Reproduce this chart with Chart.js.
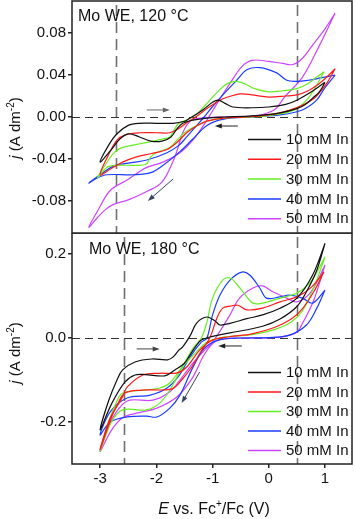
<!DOCTYPE html>
<html>
<head>
<meta charset="utf-8">
<script src="https://cdn.jsdelivr.net/npm/chart.js@4.4.1/dist/chart.umd.min.js"></script>
<style>
  html, body { margin: 0; padding: 0; background: #fff; }
  #wrap { position: relative; width: 355px; height: 519px; overflow: hidden; }
  #topChart { position: absolute; left: 0; top: 0; }
  #botChart { position: absolute; left: 0; top: 233px; }
</style>
</head>
<body>
<div id="wrap">
  <canvas id="topChart" width="355" height="234"></canvas>
  <canvas id="botChart" width="355" height="286"></canvas>
</div>
<script>
// ─── Data (E in V vs. Fc+/Fc, j in A dm^-2) ─────────────────────────────────

const seriesLabels = ['10 mM In', '20 mM In', '30 mM In', '40 mM In', '50 mM In'];

const eTicks = [-3, -2, -1, 0, 1];
const topJTicks = [-0.08, -0.04, 0, 0.04, 0.08];
const botJTicks = [-0.2, 0, 0.2];

// dashed reference potentials
const topRefE = [-2.72, 0.5];
const botRefE = [-2.58, 0.5];

// scan-direction arrows [E1, j1, E2, j2], head at the second point
const topArrows = [[-2.17, 0.0067, -1.76, 0.0067], [-0.55, -0.0086, -0.96, -0.0086], [-1.7, -0.059, -2.15, -0.080]];
const botArrows = [[-2.35, -0.026, -1.94, -0.026], [-0.48, -0.019, -0.9, -0.019], [-1.23, -0.081, -1.55, -0.155]];

// 120 °C loops: cathodic sweep from the right end to -3 V, then back
const top10 = [[1.0, 0.033], [0.9, 0.024], [0.78, 0.018], [0.65, 0.012], [0.5, 0.008], [0.2, 0.004], [-0.3, 0.001], [-0.8, 0.0], [-1.1, -0.001], [-1.35, -0.003], [-1.53, -0.006], [-1.63, -0.011], [-1.74, -0.019], [-1.9, -0.023], [-2.1, -0.023], [-2.3, -0.019], [-2.5, -0.016], [-2.65, -0.021], [-2.8, -0.031], [-3.0, -0.043],
  [-2.85, -0.027], [-2.7, -0.016], [-2.5, -0.008], [-2.3, -0.006], [-2.0, -0.006], [-1.7, -0.006], [-1.5, -0.004], [-1.4, -0.001], [-1.17, 0.007], [-1.0, 0.014], [-0.9, 0.016], [-0.78, 0.013], [-0.64, 0.0095], [-0.3, 0.0088], [0.0, 0.0095], [0.3, 0.012], [0.5, 0.016], [0.73, 0.023], [1.0, 0.033]];
const top20 = [[1.18, 0.046], [1.03, 0.032], [0.85, 0.02], [0.73, 0.015], [0.5, 0.009], [0.2, 0.004], [0.0, 0.002], [-0.4, 0.0], [-0.8, -0.001], [-1.1, -0.004], [-1.3, -0.009], [-1.46, -0.015], [-1.63, -0.024], [-1.81, -0.031], [-2.1, -0.035], [-2.35, -0.038], [-2.6, -0.043], [-2.8, -0.049], [-3.0, -0.055],
  [-2.85, -0.036], [-2.7, -0.022], [-2.55, -0.017], [-2.3, -0.015], [-2.0, -0.015], [-1.76, -0.015], [-1.6, -0.011], [-1.45, -0.005], [-1.3, 0.0], [-1.1, 0.008], [-0.9, 0.015], [-0.73, 0.019], [-0.5, 0.022], [-0.3, 0.021], [0.0, 0.019], [0.3, 0.02], [0.5, 0.021], [0.7, 0.025], [0.9, 0.032], [1.05, 0.039], [1.18, 0.046]];
const top30 = [[0.98, 0.043], [0.85, 0.03], [0.7, 0.018], [0.5, 0.008], [0.2, 0.003], [-0.3, 0.0], [-0.8, -0.001], [-1.1, -0.004], [-1.35, -0.01], [-1.5, -0.015], [-1.58, -0.019], [-1.76, -0.029], [-2.0, -0.034], [-2.1, -0.038], [-2.18, -0.045], [-2.4, -0.046], [-2.7, -0.046], [-2.88, -0.048], [-3.05, -0.058],
  [-2.9, -0.045], [-2.75, -0.034], [-2.6, -0.029], [-2.24, -0.025], [-1.9, -0.021], [-1.76, -0.019], [-1.68, -0.012], [-1.6, -0.006], [-1.46, -0.003], [-1.3, 0.002], [-1.15, 0.01], [-1.0, 0.019], [-0.85, 0.027], [-0.73, 0.032], [-0.57, 0.034], [-0.4, 0.031], [-0.25, 0.027], [0.0, 0.024], [0.25, 0.025], [0.5, 0.027], [0.7, 0.032], [0.85, 0.038], [0.98, 0.043]];
const top40 = [[1.18, 0.04], [1.0, 0.028], [0.85, 0.016], [0.65, 0.008], [0.5, 0.005], [0.2, 0.002], [-0.3, 0.0], [-0.8, -0.002], [-1.1, -0.008], [-1.35, -0.021], [-1.58, -0.033], [-1.88, -0.046], [-2.1, -0.053], [-2.4, -0.055], [-2.88, -0.055], [-3.05, -0.058], [-3.2, -0.063],
  [-3.0, -0.055], [-2.77, -0.047], [-2.5, -0.044], [-2.17, -0.041], [-1.81, -0.034], [-1.6, -0.027], [-1.46, -0.019], [-1.28, -0.008], [-1.15, 0.0], [-1.0, 0.01], [-0.8, 0.022], [-0.57, 0.035], [-0.39, 0.045], [-0.16, 0.047], [0.14, 0.042], [0.32, 0.035], [0.5, 0.034], [0.7, 0.035], [0.9, 0.037], [1.18, 0.04]];
const top50 = [[1.18, 0.099], [0.9, 0.068], [0.6, 0.038], [0.28, 0.019], [0.1, 0.007], [-0.25, 0.001], [-0.8, 0.0], [-1.2, -0.001], [-1.4, -0.004], [-1.53, -0.015], [-1.62, -0.03], [-1.7, -0.042], [-1.9, -0.062], [-2.17, -0.071], [-2.5, -0.079], [-2.75, -0.083], [-2.9, -0.088], [-3.05, -0.096], [-3.2, -0.105],
  [-3.05, -0.09], [-2.82, -0.07], [-2.52, -0.06], [-2.17, -0.048], [-1.88, -0.043], [-1.58, -0.034], [-1.35, -0.022], [-1.1, -0.003], [-0.92, 0.013], [-0.69, 0.032], [-0.48, 0.048], [-0.3, 0.054], [0.0, 0.053], [0.25, 0.051], [0.43, 0.05], [0.6, 0.056], [0.8, 0.07], [1.0, 0.084], [1.18, 0.099]];

// 180 °C loops
const bot10 = [[1.0, 0.225], [0.85, 0.16], [0.67, 0.11], [0.5, 0.075], [0.2, 0.045], [-0.11, 0.028], [-0.69, 0.012], [-1.0, 0.004], [-1.2, -0.005], [-1.3, -0.02], [-1.4, -0.04], [-1.5, -0.06], [-1.67, -0.076], [-1.85, -0.09], [-2.2, -0.087], [-2.38, -0.088], [-2.56, -0.105], [-2.79, -0.155], [-3.0, -0.219],
  [-2.85, -0.15], [-2.7, -0.1], [-2.6, -0.076], [-2.38, -0.057], [-2.08, -0.05], [-1.8, -0.052], [-1.7, -0.045], [-1.6, -0.029], [-1.53, -0.021], [-1.4, 0.005], [-1.28, 0.036], [-1.1, 0.05], [-0.95, 0.04], [-0.87, 0.031], [-0.69, 0.035], [-0.39, 0.046], [-0.11, 0.055], [0.2, 0.071], [0.5, 0.095], [0.78, 0.15], [1.0, 0.225]];
const bot20 = [[0.98, 0.157], [0.8, 0.11], [0.6, 0.07], [0.4, 0.045], [0.1, 0.025], [-0.3, 0.01], [-0.7, 0.003], [-1.0, -0.005], [-1.23, -0.029], [-1.46, -0.069], [-1.63, -0.083], [-1.94, -0.084], [-2.24, -0.088], [-2.52, -0.117], [-2.6, -0.14], [-2.77, -0.18], [-3.0, -0.266],
  [-2.85, -0.2], [-2.7, -0.16], [-2.56, -0.131], [-2.26, -0.124], [-1.72, -0.121], [-1.55, -0.1], [-1.37, -0.069], [-1.19, -0.029], [-1.05, 0.0], [-0.92, 0.048], [-0.82, 0.071], [-0.69, 0.076], [-0.55, 0.078], [-0.39, 0.067], [-0.11, 0.071], [0.2, 0.086], [0.5, 0.098], [0.75, 0.12], [0.98, 0.157]];
const bot30 = [[1.0, 0.193], [0.8, 0.12], [0.6, 0.065], [0.4, 0.038], [0.1, 0.02], [-0.3, 0.008], [-0.8, 0.002], [-1.1, -0.01], [-1.3, -0.035], [-1.53, -0.069], [-1.76, -0.124], [-1.94, -0.155], [-2.17, -0.171], [-2.6, -0.171], [-2.8, -0.2], [-3.0, -0.27],
  [-2.85, -0.2], [-2.7, -0.15], [-2.6, -0.131], [-2.3, -0.125], [-1.94, -0.119], [-1.76, -0.107], [-1.55, -0.07], [-1.35, -0.025], [-1.2, 0.0], [-1.1, 0.038], [-1.0, 0.095], [-0.82, 0.138], [-0.69, 0.143], [-0.55, 0.125], [-0.46, 0.11], [-0.28, 0.083], [-0.11, 0.083], [0.2, 0.095], [0.5, 0.107], [0.75, 0.135], [1.0, 0.193]];
const bot40 = [[1.0, 0.114], [0.85, 0.07], [0.67, 0.031], [0.37, 0.007], [0.0, 0.001], [-0.5, 0.0], [-0.9, -0.005], [-1.15, -0.025], [-1.35, -0.07], [-1.58, -0.136], [-1.76, -0.167], [-1.99, -0.188], [-2.17, -0.186], [-2.52, -0.188], [-2.82, -0.2], [-3.0, -0.231],
  [-2.82, -0.176], [-2.52, -0.143], [-2.11, -0.136], [-1.81, -0.119], [-1.6, -0.09], [-1.4, -0.045], [-1.2, -0.01], [-1.1, 0.0], [-1.0, 0.055], [-0.87, 0.102], [-0.69, 0.138], [-0.48, 0.157], [-0.34, 0.15], [-0.16, 0.119], [-0.04, 0.095], [0.2, 0.098], [0.37, 0.102], [0.6, 0.095], [0.78, 0.083], [1.0, 0.114]];
const bot50 = [[1.0, 0.174], [0.8, 0.09], [0.6, 0.035], [0.5, 0.014], [0.2, 0.002], [-0.3, 0.0], [-0.7, -0.001], [-0.95, -0.008], [-1.15, -0.04], [-1.35, -0.093], [-1.63, -0.14], [-1.99, -0.167], [-2.35, -0.179], [-2.6, -0.19], [-2.8, -0.22], [-3.0, -0.27],
  [-2.85, -0.21], [-2.65, -0.165], [-2.47, -0.148], [-2.06, -0.148], [-1.76, -0.128], [-1.55, -0.095], [-1.35, -0.06], [-1.15, -0.03], [-1.0, -0.01], [-0.85, 0.02], [-0.69, 0.055], [-0.52, 0.095], [-0.28, 0.119], [-0.11, 0.124], [0.07, 0.11], [0.32, 0.095], [0.5, 0.086], [0.75, 0.11], [1.0, 0.174]];

// ─── Styling ────────────────────────────────────────────────────────────────

const FONT = '"Liberation Sans", Arial, sans-serif';
const seriesColors = ['#111111', '#ff1a1a', '#66ee22', '#1a3cff', '#cc44ff'];
const INK = '#222';

// draw a run of text pieces (italic / superscript) starting at x, baseline y
function drawRich(ctx, parts, x, y) {
  let cx = x;
  parts.forEach(function (p) {
    ctx.font = p.font;
    ctx.fillText(p.t, cx, y + (p.dy || 0));
    cx += ctx.measureText(p.t).width;
  });
}
function richWidth(ctx, parts) {
  let w = 0;
  parts.forEach(function (p) { ctx.font = p.font; w += ctx.measureText(p.t).width; });
  return w;
}

const jTitle = [
  { t: 'j', font: 'italic 15px ' + FONT },
  { t: ' (A dm', font: '15px ' + FONT },
  { t: '-2', font: '10px ' + FONT, dy: -6 },
  { t: ')', font: '15px ' + FONT },
];
const eTitle = [
  { t: 'E', font: 'italic 16px ' + FONT },
  { t: ' vs. Fc', font: '16px ' + FONT },
  { t: '+', font: '10px ' + FONT, dy: -7 },
  { t: '/Fc (V)', font: '16px ' + FONT },
];

const panelDecor = {
  id: 'panelDecor',
  beforeDatasetsDraw: function (chart, args, o) {
    const ctx = chart.ctx, a = chart.chartArea, xs = chart.scales.x, ys = chart.scales.y;
    ctx.save();
    ctx.strokeStyle = '#707070';
    ctx.lineWidth = 1.6;
    ctx.setLineDash([11, 6]);
    o.refE.forEach(function (v) {
      const px = Math.round(xs.getPixelForValue(v)) + 0.5;
      ctx.beginPath(); ctx.moveTo(px, a.top + 4); ctx.lineTo(px, a.bottom); ctx.stroke();
    });
    ctx.strokeStyle = '#333';
    ctx.lineWidth = 1;
    ctx.setLineDash([8, 5]);
    const py = Math.round(ys.getPixelForValue(0)) + 0.5;
    ctx.beginPath(); ctx.moveTo(a.left, py); ctx.lineTo(a.right, py); ctx.stroke();
    ctx.restore();
  },
  afterDraw: function (chart, args, o) {
    const ctx = chart.ctx, a = chart.chartArea, xs = chart.scales.x, ys = chart.scales.y;
    ctx.save();
    // frame
    ctx.strokeStyle = INK;
    ctx.lineWidth = 1.5;
    ctx.strokeRect(a.left, a.top, a.right - a.left, a.bottom - a.top);

    // scan arrows
    o.arrows.forEach(function (ar, i) {
      const x1 = xs.getPixelForValue(ar[0]), y1 = ys.getPixelForValue(ar[1]);
      const x2 = xs.getPixelForValue(ar[2]), y2 = ys.getPixelForValue(ar[3]);
      const ang = Math.atan2(y2 - y1, x2 - x1);
      ctx.strokeStyle = ctx.fillStyle = o.arrowColors[i];
      ctx.lineWidth = 1;
      ctx.beginPath(); ctx.moveTo(x1, y1); ctx.lineTo(x2 - 4 * Math.cos(ang), y2 - 4 * Math.sin(ang)); ctx.stroke();
      ctx.beginPath();
      ctx.moveTo(x2, y2);
      ctx.lineTo(x2 - 7 * Math.cos(ang) + 2.5 * Math.sin(ang), y2 - 7 * Math.sin(ang) - 2.5 * Math.cos(ang));
      ctx.lineTo(x2 - 7 * Math.cos(ang) - 2.5 * Math.sin(ang), y2 - 7 * Math.sin(ang) + 2.5 * Math.cos(ang));
      ctx.closePath(); ctx.fill();
    });

    // panel label
    ctx.fillStyle = '#111';
    ctx.font = '16px ' + FONT;
    ctx.textBaseline = 'middle';
    ctx.textAlign = 'left';
    ctx.fillText(o.label, o.labelX, o.labelY);

    // legend
    ctx.font = '15px ' + FONT;
    chart.data.datasets.forEach(function (ds, i) {
      const yy = o.legendY + i * o.legendStep;
      ctx.strokeStyle = ds.borderColor;
      ctx.lineWidth = 1.5;
      ctx.beginPath(); ctx.moveTo(248, yy + 0.5); ctx.lineTo(281, yy + 0.5); ctx.stroke();
      ctx.fillStyle = '#111';
      ctx.fillText(ds.label, 286, yy + 1);
    });

    // y title
    ctx.textBaseline = 'alphabetic';
    ctx.fillStyle = '#111';
    const w = richWidth(ctx, jTitle);
    ctx.translate(15, o.titleY);
    ctx.rotate(-Math.PI / 2);
    drawRich(ctx, jTitle, -w / 2, 5);
    ctx.setTransform(1, 0, 0, 1, 0, 0);

    // x title (bottom panel only)
    if (o.xTitle) {
      const wx = richWidth(ctx, eTitle);
      drawRich(ctx, eTitle, 214 - wx / 2, o.xTitleY);
    }
    ctx.restore();
  }
};

function makeDatasets(list) {
  return list.map(function (d, i) {
    return {
      label: seriesLabels[i],
      data: d.map(function (p) { return { x: p[0], y: p[1] }; }),
      borderColor: seriesColors[i],
      backgroundColor: seriesColors[i],
      borderWidth: 1.2,
      pointRadius: 0,
      showLine: true,
      tension: 0.35,
      fill: false,
    };
  });
}

function makeChart(id, cfg) {
  return new Chart(document.getElementById(id), {
    type: 'scatter',
    data: { datasets: makeDatasets(cfg.series) },
    plugins: [panelDecor],
    options: {
      responsive: false,
      animation: false,
      events: [],
      layout: { padding: cfg.padding },
      plugins: {
        legend: { display: false },
        tooltip: { enabled: false },
        panelDecor: cfg.decor,
      },
      scales: {
        x: {
          type: 'linear',
          min: -3.5,
          max: 1.48,
          display: cfg.showX,
          afterBuildTicks: function (s) { s.ticks = eTicks.map(function (v) { return { value: v }; }); },
          afterFit: function (s) {
            if (cfg.showX) s.height = 55;
            s.paddingLeft = 0; s.paddingRight = 0;
          },
          border: { display: false },
          grid: { drawOnChartArea: false, drawTicks: true, tickLength: 4, color: INK, lineWidth: 1.5 },
          ticks: {
            color: '#111',
            padding: 2,
            maxRotation: 0,
            font: { family: FONT, size: 15 },
            callback: function (v) { return String(v); },
          },
        },
        y: {
          type: 'linear',
          min: cfg.yMin,
          max: cfg.yMax,
          afterBuildTicks: function (s) { s.ticks = cfg.yTicks.map(function (v) { return { value: v }; }); },
          afterFit: function (s) {
            s.width = 72;
            s.paddingTop = 0; s.paddingBottom = 0;
          },
          border: { display: false },
          grid: { drawOnChartArea: false, drawTicks: true, tickLength: 4, color: INK, lineWidth: 1.5 },
          ticks: {
            color: '#111',
            padding: 2,
            font: { family: FONT, size: 15 },
            callback: function (v) { return v.toFixed(cfg.decimals); },
          },
        },
      },
    },
  });
}

makeChart('topChart', {
  series: [top10, top20, top30, top40, top50],
  padding: { left: 0, right: 3, top: 1, bottom: 1 },
  showX: false,
  yMin: -0.1105, yMax: 0.1105,
  yTicks: topJTicks,
  decimals: 2,
  decor: {
    refE: topRefE,
    arrows: topArrows,
    arrowColors: ['#666', '#222', '#3a4060'],
    label: 'Mo WE, 120 °C', labelX: 78, labelY: 17,
    legendY: 139, legendStep: 19.8,
    titleY: 128,
    xTitle: false,
  },
});

makeChart('botChart', {
  series: [bot10, bot20, bot30, bot40, bot50],
  padding: { left: 0, right: 3, top: 0, bottom: 0 },
  showX: true,
  yMin: -0.30, yMax: 0.25,
  yTicks: botJTicks,
  decimals: 1,
  decor: {
    refE: botRefE,
    arrows: botArrows,
    arrowColors: ['#444', '#222', '#3a4060'],
    label: 'Mo WE, 180 °C', labelX: 89, labelY: 17,
    legendY: 139, legendStep: 19.5,
    titleY: 120,
    xTitle: true, xTitleY: 281,
  },
});
</script>
</body>
</html>
